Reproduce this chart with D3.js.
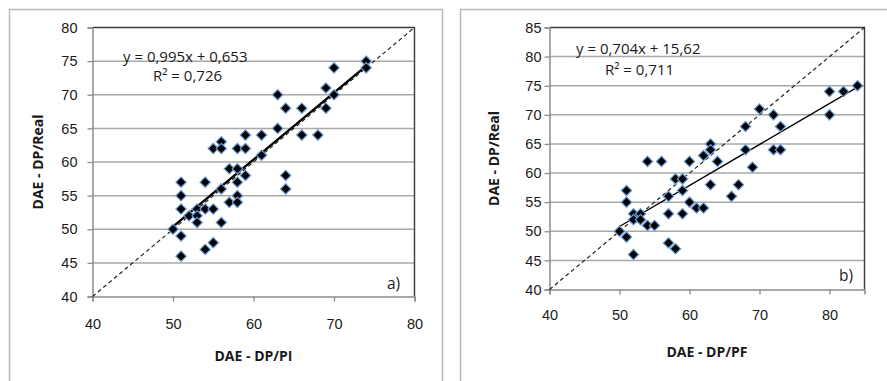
<!DOCTYPE html>
<html>
<head>
<meta charset="utf-8">
<script src="https://cdn.jsdelivr.net/npm/d3@7"></script>
<style>
  body { margin: 0; background: #fff; }
  svg { display: block; font-family: "Open Sans", "Noto Sans", sans-serif; }
  .tick text { fill: #1a1a1a; font-size: 14.5px; }
</style>
</head>
<body>
<svg id="chart" width="887" height="381"></svg>
<script>
// panel a) DAE - DP/PI vs DAE - DP/Real
const aPI = [50, 51, 51, 51, 51, 51, 52, 53, 53, 53, 54, 54, 54, 55, 55, 55, 56, 56, 56, 56, 57, 57, 58, 58, 58, 58, 58, 59, 59, 59, 61, 61, 63, 63, 64, 64, 64, 66, 66, 68, 69, 69, 70, 70, 74, 74];
const aReal = [50, 46, 49, 53, 55, 57, 52, 53, 52, 51, 53, 57, 47, 48, 53, 62, 63, 62, 56, 51, 59, 54, 62, 59, 57, 55, 54, 58, 62, 64, 64, 61, 70, 65, 68, 58, 56, 68, 64, 64, 71, 68, 70, 74, 75, 74];
// panel b) DAE - DP/PF vs DAE - DP/Real
const bPF = [50, 51, 51, 51, 52, 52, 52, 53, 53, 54, 54, 55, 56, 57, 57, 57, 58, 58, 59, 59, 59, 60, 60, 61, 62, 62, 63, 63, 63, 64, 66, 67, 68, 68, 69, 70, 72, 72, 73, 73, 80, 80, 82, 84];
const bReal = [50, 49, 55, 57, 46, 53, 52, 53, 52, 51, 62, 51, 62, 56, 53, 48, 47, 59, 59, 57, 53, 62, 55, 54, 54, 63, 65, 64, 58, 62, 56, 58, 64, 68, 61, 71, 70, 64, 68, 64, 74, 70, 74, 75];

const aTrend = { slope: 0.995, icept: 0.653, from: 50, to: 74 };
const bTrend = { slope: 0.704, icept: 15.62, from: 50, to: 84 };
const aLabels = ["y = 0,995x + 0,653", "R² = 0,726", "a)"];
const bLabels = ["y = 0,704x + 15,62", "R² = 0,711", "b)"];

const aXTicks = [40, 50, 60, 70, 80], aYTicks = [40, 45, 50, 55, 60, 65, 70, 75, 80];
const bXTicks = [40, 50, 60, 70, 80], bYTicks = [40, 45, 50, 55, 60, 65, 70, 75, 80, 85];

const svg = d3.select('#chart');

// outer frames
svg.append('rect').attr('x', 9.5).attr('y', 9.5).attr('width', 433).attr('height', 400)
  .attr('fill', 'none').attr('stroke', '#b8b8b8').attr('stroke-width', 1.5);
svg.append('rect').attr('x', 460.5).attr('y', 9.5).attr('width', 450).attr('height', 400)
  .attr('fill', 'none').attr('stroke', '#b8b8b8').attr('stroke-width', 1.5);

function panel(cfg) {
  const x = d3.scaleLinear().domain(cfg.xDom).range([cfg.left, cfg.right]);
  const y = d3.scaleLinear().domain(cfg.yDom).range([cfg.bottom, cfg.top]);
  const g = svg.append('g');

  // gridlines
  g.selectAll('line.grid').data(cfg.yTicks.slice(1, -1)).join('line')
    .attr('x1', cfg.left).attr('x2', cfg.right)
    .attr('y1', d => y(d)).attr('y2', d => y(d))
    .attr('stroke', '#a8a8a8').attr('stroke-width', 1.5);

  // plot border top/right
  g.append('path')
    .attr('d', `M${cfg.left},${cfg.top}H${cfg.right}V${cfg.bottom}`)
    .attr('fill', 'none').attr('stroke', '#3a3a3a').attr('stroke-width', 1.4);

  // axes
  const yAxis = g.append('g').attr('transform', `translate(${cfg.left},0)`)
    .call(d3.axisLeft(y).tickValues(cfg.yTicks).tickSize(5).tickPadding(cfg.yPad));
  const xAxis = g.append('g').attr('transform', `translate(0,${cfg.bottom})`)
    .call(d3.axisBottom(x).tickValues(cfg.xTicks).tickSize(5).tickPadding(cfg.xPad));
  [xAxis, yAxis].forEach(ax => {
    ax.select('.domain').attr('stroke', '#8c8c8c').attr('stroke-width', 1.5);
    ax.selectAll('.tick line').attr('stroke', '#8c8c8c').attr('stroke-width', 1.3);
  });
  xAxis.selectAll('.tick text').text(d => d);
  yAxis.selectAll('.tick text').text(d => d);

  // 1:1 dashed line
  const lim = Math.min(cfg.xDom[1], cfg.yDom[1]);
  g.append('line')
    .attr('x1', x(40)).attr('y1', y(40)).attr('x2', x(lim)).attr('y2', y(lim))
    .attr('stroke', '#222').attr('stroke-width', 1.2).attr('stroke-dasharray', '4,3');

  // trend line
  const t = cfg.trend;
  g.append('line')
    .attr('x1', x(t.from)).attr('y1', y(t.slope * t.from + t.icept))
    .attr('x2', x(t.to)).attr('y2', y(t.slope * t.to + t.icept))
    .attr('stroke', '#000').attr('stroke-width', cfg.trendW);

  // markers
  const sym = d3.symbol(d3.symbolSquare, 54);
  g.selectAll('path.pt').data(cfg.xs.map((v, i) => [v, cfg.ys[i]])).join('path')
    .attr('class', 'pt')
    .attr('d', sym)
    .attr('transform', d => `translate(${x(d[0])},${y(d[1])}) rotate(45)`)
    .attr('fill', '#000').attr('stroke', '#6b9bd6').attr('stroke-width', 1.2);

  // labels
  g.append('text').attr('x', cfg.eq[0]).attr('y', cfg.eq[1]).attr('font-size', 15)
    .attr('fill', '#1a1a1a').text(cfg.labels[0]);
  g.append('text').attr('x', cfg.r2[0]).attr('y', cfg.r2[1]).attr('font-size', 15)
    .attr('fill', '#1a1a1a').text(cfg.labels[1]);
  g.append('text').attr('x', cfg.tag[0]).attr('y', cfg.tag[1]).attr('font-size', 15.5)
    .attr('fill', '#1a1a1a').text(cfg.labels[2]);

  g.append('text').attr('x', (cfg.left + cfg.right) / 2).attr('y', cfg.xTitleY)
    .attr('text-anchor', 'middle').attr('font-size', 14).attr('font-weight', 'bold')
    .attr('fill', '#1a1a1a').text(cfg.xTitle);
  g.append('text')
    .attr('transform', `translate(${cfg.yTitleX},${(cfg.top + cfg.bottom) / 2}) rotate(-90)`)
    .attr('text-anchor', 'middle').attr('font-size', 14).attr('font-weight', 'bold')
    .attr('fill', '#1a1a1a').text('DAE - DP/Real');
}

panel({
  left: 92.5, right: 414.5, top: 27.5, bottom: 296.5,
  xDom: [40, 80], yDom: [40, 80], xTicks: aXTicks, yTicks: aYTicks,
  xs: aPI, ys: aReal, trend: aTrend, trendW: 2.3, labels: aLabels,
  yPad: 10, xPad: 17,
  eq: [123, 62], r2: [153, 81], tag: [387, 289],
  xTitle: 'DAE - DP/PI', xTitleY: 361, yTitleX: 43
});

panel({
  left: 549.5, right: 864.5, top: 27.5, bottom: 289.5,
  xDom: [40, 85], yDom: [40, 85], xTicks: bXTicks, yTicks: bYTicks,
  xs: bPF, ys: bReal, trend: bTrend, trendW: 1.4, labels: bLabels,
  yPad: 3, xPad: 15,
  eq: [576, 54], r2: [605, 75], tag: [839, 281],
  xTitle: 'DAE - DP/PF', xTitleY: 357, yTitleX: 499
});
</script>
</body>
</html>
